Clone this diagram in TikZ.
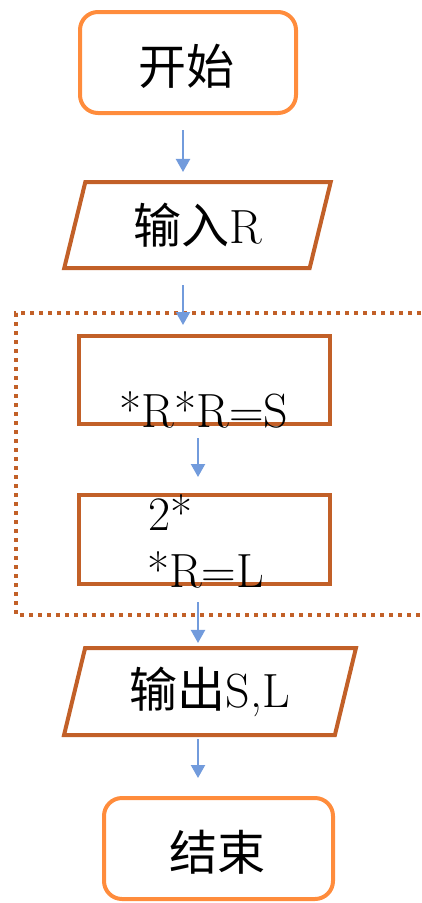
\documentclass[tikz,border=0pt]{standalone}
\usepackage{fontspec}
\newfontfamily\cjk{Noto Sans CJK SC}
\usepackage{tikz}
\usetikzlibrary{shapes.geometric,arrows.meta}

\definecolor{termcol}{RGB}{255,140,60}
\definecolor{boxcol}{RGB}{194,96,40}
\definecolor{flowcol}{RGB}{114,155,220}

\begin{document}
\begin{tikzpicture}[x=1pt,y=-1pt,
	>={Triangle[width=14pt,length=13pt]},
	every node/.style={font=\fontsize{48}{56}\selectfont},
	terminal/.style={rectangle,rounded corners=18pt,draw=termcol,line width=4pt},
	iobox/.style={trapezium,trapezium left angle=76,trapezium right angle=104,
		trapezium stretches=true,draw=boxcol,line width=4pt},
	procbox/.style={rectangle,draw=boxcol,line width=4pt},
	flow/.style={->,draw=flowcol,line width=2.2pt}]

			\useasboundingbox (0,0) rectangle (421,903);

			\node[terminal,minimum width=216pt,minimum height=101pt] (start) at (188,62.5) {};
			\node (startlbl) at (186,66) {\cjk 开始};
			\node[iobox,minimum width=267pt,minimum height=86pt] (input) at (197.5,225) {{\cjk 输入}R};
			\node[procbox,minimum width=251pt,minimum height=88pt] (areabox) at (204.5,380) {};
			\node[anchor=base] (arealbl) at (204,427) {*R*R=S};
			\node[procbox,minimum width=251pt,minimum height=89pt] (perimbox) at (204.5,539.5) {};
			\node[anchor=base west,inner sep=0pt] (perimlblA) at (148,530) {2*};
			\node[anchor=base] (perimlblB) at (205.5,587) {*R=L};
			\node[iobox,minimum width=292pt,minimum height=87pt] (output) at (210,691.5) {{\cjk 输出}S,L};
			\node[terminal,minimum width=229pt,minimum height=101pt] (stop) at (218.5,848.5) {};
			\node (stoplbl) at (217,852) {\cjk 结束};

			% loop frame, open at the right
			\draw[boxcol,line width=4pt,dash pattern=on 4pt off 5pt] (430,313) -- (16,313) -- (16,615) -- (430,615);

			\coordinate (axisA) at (183,0);
			\coordinate (axisB) at (198,0);
			\path[flow,shorten <=15pt,shorten >=8pt] (start.south -| axisA) -- (input.north -| axisA);
			\path[flow,shorten <=15pt,shorten >=9pt] (input.south -| axisA) -- (areabox.north -| axisA);
			\path[flow,shorten <=12pt,shorten >=16pt] (areabox.south -| axisB) -- (perimbox.north -| axisB);
			\path[flow,shorten <=16pt,shorten >=3pt] (perimbox.south -| axisB) -- (output.north -| axisB);
			\path[flow,shorten <=2pt,shorten >=18pt] (output.south -| axisB) -- (stop.north -| axisB);

\end{tikzpicture}
\end{document}
